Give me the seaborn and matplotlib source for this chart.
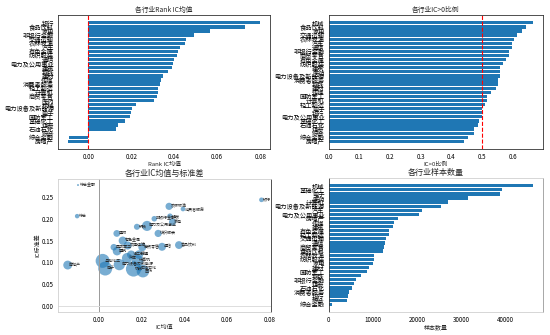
import matplotlib
matplotlib.use("Agg")
import matplotlib.pyplot as plt
import seaborn as sns
import pandas as pd

sns.set_style("white")
plt.rcParams["font.family"] = ["Noto Sans CJK SC", "DejaVu Sans"]
plt.rcParams["axes.unicode_minus"] = False

# Rank IC mean per industry (sorted, highest first)
rank_ic_industries = ["银行", "食品饮料", "家电", "非银行金融", "交通运输", "农林牧渔", "汽车",
                      "有色金属", "纺织服装", "通信", "电力及公用事业", "建筑", "钢铁", "建材",
                      "传媒", "消费者服务", "轻工制造", "计算机", "商贸零售", "医药", "机械",
                      "电力设备及新能源", "电子", "国防军工", "基础化工", "煤炭", "石油石化",
                      "综合", "综合金融", "房地产"]
rank_ic_mean = [0.0801, 0.0731, 0.0568, 0.0493, 0.0453, 0.0448, 0.0428, 0.0417, 0.0412, 0.0400,
                0.0395, 0.0390, 0.0370, 0.0348, 0.0339, 0.0334, 0.0325, 0.0325, 0.0320, 0.0306,
                0.0222, 0.0202, 0.0199, 0.0194, 0.0171, 0.0138, 0.0129, 0.0005, -0.0092, -0.0096]

# Share of periods with IC > 0 (sorted, highest first)
pos_ratio_industries = ["机械", "食品饮料", "家电", "交通运输", "农林牧渔", "汽车", "通信",
                        "非银行金融", "商贸零售", "有色金属", "纺织服装", "建筑", "医药",
                        "电力设备及新能源", "消费者服务", "钢铁", "建材", "传媒", "国防军工",
                        "计算机", "轻工制造", "电子", "银行", "电力及公用事业", "基础化工",
                        "石油石化", "煤炭", "综合", "综合金融", "房地产"]
ic_pos_ratio = [0.665, 0.642, 0.630, 0.613, 0.603, 0.597, 0.597, 0.589, 0.589, 0.577,
                0.568, 0.560, 0.560, 0.560, 0.551, 0.551, 0.544, 0.530, 0.515, 0.515,
                0.508, 0.500, 0.500, 0.500, 0.491, 0.485, 0.473, 0.473, 0.455, 0.441]

# Number of stock-period samples per industry (sorted, largest first)
count_industries = ["机械", "基础化工", "电子", "医药", "计算机", "电力设备及新能源", "汽车",
                    "电力及公用事业", "房地产", "传媒", "建筑", "有色金属", "轻工制造", "交通运输",
                    "通信", "商贸零售", "食品饮料", "农林牧渔", "纺织服装", "家电", "建材",
                    "国防军工", "钢铁", "非银行金融", "煤炭", "石油石化", "消费者服务", "银行",
                    "综合", "综合金融"]
sample_count = [46160, 39160, 38860, 31410, 26920, 25320, 20990, 20300, 15740, 14750,
                14450, 13690, 13690, 12930, 12700, 12550, 12170, 10270, 10270, 10040,
                9130, 8590, 7300, 6160, 5700, 5170, 4490, 4330, 4030, 760]

# IC mean vs IC standard deviation per industry
scatter_industries = ["综合金融", "综合", "房地产", "银行", "农林牧渔", "消费者服务", "煤炭",
                      "非银行金融", "家电", "钢铁", "电力及公用事业", "纺织服装", "建材",
                      "有色金属", "食品饮料", "通信", "商贸零售", "国防军工", "交通运输", "建筑",
                      "轻工制造", "传媒", "汽车", "基础化工", "计算机", "电力设备及新能源",
                      "电子", "机械", "医药", "石油石化"]
ic_mean = [-0.0096, -0.0100, -0.0144, 0.0760, 0.0329, 0.0394, 0.0333, 0.0260, 0.0345, 0.0179,
           0.0226, 0.0278, 0.0085, 0.0113, 0.0375, 0.0296, 0.0204, 0.0071, 0.0136, 0.0086,
           0.0152, 0.0188, 0.0133, 0.0019, 0.0182, 0.0097, 0.0031, 0.0163, 0.0207, 0.0191]
ic_std = [0.278, 0.2065, 0.094, 0.244, 0.229, 0.223, 0.2065, 0.2005, 0.193, 0.182,
          0.184, 0.1667, 0.1667, 0.150, 0.140, 0.136, 0.135, 0.135, 0.139, 0.126,
          0.118, 0.118, 0.110, 0.1036, 0.1036, 0.095, 0.086, 0.085, 0.080, 0.086]

count_map = dict(zip(count_industries, sample_count))
scatter_df = pd.DataFrame({"industry": scatter_industries, "ic_mean": ic_mean, "ic_std": ic_std})
scatter_df["count"] = scatter_df["industry"].map(count_map)

BAR = "#1f77b4"
DARK = "#333333"
LIGHT = "#d0d0d0"
TICK_FS = 4.5
LABEL_FS = 4.3
TITLE_FS_TOP = 4.9
TITLE_FS_BOT = 5.8

fig = plt.figure(figsize=(5.5, 3.35), dpi=100)
ax1 = fig.add_axes([0.1055, 0.555, 0.3855, 0.400])
ax2 = fig.add_axes([0.598, 0.555, 0.389, 0.400])
ax3 = fig.add_axes([0.1055, 0.0687, 0.3875, 0.397])
ax4 = fig.add_axes([0.598, 0.0687, 0.389, 0.400])


def style_axes(ax, spine_colors):
    for side, col in spine_colors.items():
        ax.spines[side].set_visible(True)
        ax.spines[side].set_color(col)
        ax.spines[side].set_linewidth(0.6)
    ax.tick_params(axis="both", labelsize=TICK_FS, length=2, width=0.5, pad=1.0,
                   colors=DARK, labelcolor="black")


def hbar(ax, values, labels):
    sns.barplot(x=values, y=labels, orient="h", color=BAR, saturation=1,
                width=0.8, linewidth=0, edgecolor="none", ax=ax)
    n = len(values)
    span = (n - 1) + 0.8
    ax.set_ylim(n - 1 + 0.4 + 0.05 * span, -0.4 - 0.05 * span)
    ax.set_ylabel("")


# Rank IC mean
hbar(ax1, rank_ic_mean, rank_ic_industries)
ax1.axvline(0, color="red", linestyle="--", linewidth=0.8)
ax1.set_title("各行业Rank IC均值", fontsize=TITLE_FS_TOP, pad=2.5)
ax1.set_xlabel("Rank IC均值", fontsize=LABEL_FS, labelpad=0.5)
style_axes(ax1, {"left": DARK, "right": DARK, "top": DARK, "bottom": DARK})

# IC > 0 ratio
hbar(ax2, ic_pos_ratio, pos_ratio_industries)
ax2.axvline(0.5, color="red", linestyle="--", linewidth=0.8)
ax2.set_title("各行业IC>0比例", fontsize=TITLE_FS_TOP, pad=2.5)
ax2.set_xlabel("IC>0比例", fontsize=LABEL_FS, labelpad=0.5)
style_axes(ax2, {"left": DARK, "right": DARK, "top": DARK, "bottom": DARK})

# IC mean vs std, bubble size by sample count
sns.scatterplot(data=scatter_df, x="ic_mean", y="ic_std", size="count",
                sizes=(2, 120), size_norm=(min(sample_count), max(sample_count)),
                color=BAR, alpha=0.6, linewidth=0, legend=False, ax=ax3)
ax3.axvline(0, color="#999999", linewidth=0.7)
ax3.axhline(0, color="#dddddd", linewidth=0.7)
for _, row in scatter_df.iterrows():
    ax3.annotate(row["industry"], (row["ic_mean"], row["ic_std"]), xytext=(1.2, 0.3),
                 textcoords="offset points", fontsize=2.9, va="center", ha="left")
ax3.set_title("各行业IC均值与标准差", fontsize=TITLE_FS_BOT, pad=2.0)
ax3.set_xlabel("IC均值", fontsize=LABEL_FS, labelpad=0.5)
ax3.set_ylabel("IC标准差", fontsize=LABEL_FS, labelpad=1.0)
style_axes(ax3, {"left": LIGHT, "right": DARK, "top": LIGHT, "bottom": LIGHT})

# Sample count
hbar(ax4, sample_count, count_industries)
ax4.set_title("各行业样本数量", fontsize=TITLE_FS_BOT, pad=2.0)
ax4.set_xlabel("样本数量", fontsize=LABEL_FS, labelpad=0.5)
style_axes(ax4, {"left": DARK, "right": "#999999", "top": LIGHT, "bottom": LIGHT})

fig.savefig("out.png", dpi=100)
